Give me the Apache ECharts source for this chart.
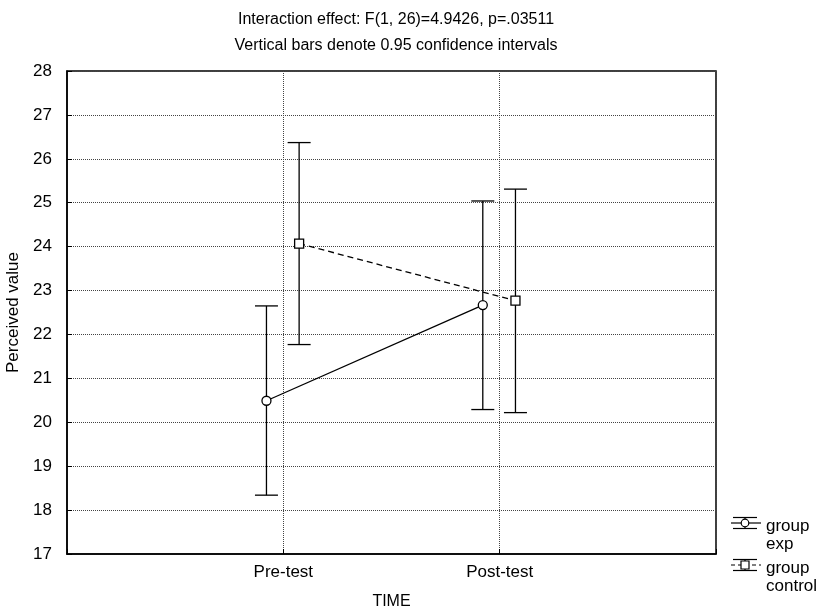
<!DOCTYPE html>
<html><head><meta charset="utf-8">
<script src="https://cdn.jsdelivr.net/npm/echarts@6/dist/echarts.min.js"></script>
<style>html,body{margin:0;padding:0;background:#fff}#c{width:819px;height:608px}</style>
</head><body><div id="c"></div>
<script>
const categories = ['Pre-test', 'Post-test'];
const expMean = [20.49, 22.67];
const expLow = [18.34, 20.29];
const expHigh = [22.65, 25.04];
const ctrlMean = [24.07, 22.77];
const ctrlLow = [21.77, 20.22];
const ctrlHigh = [26.37, 25.31];
const yTicks = [17, 18, 19, 20, 21, 22, 23, 24, 25, 26, 27, 28];

const FONT = 'Liberation Sans, Arial, sans-serif';
const expOff = -0.078, ctrlOff = 0.073;

const chart = echarts.init(document.getElementById('c'));

function errData(low, high, off) {
  return categories.map((c, i) => [i + 1 + off, low[i], high[i]]);
}
function lineData(mean, off) {
  return categories.map((c, i) => [i + 1 + off, mean[i]]);
}
function renderErr(params, api) {
  const x = api.value(0);
  const lo = api.coord([x, api.value(1)]);
  const hi = api.coord([x, api.value(2)]);
  const hw = 11.5;
  const st = { stroke: '#000', lineWidth: 1.3 };
  return {
    type: 'group',
    children: [
      { type: 'line', shape: { x1: lo[0], y1: lo[1], x2: hi[0], y2: hi[1] }, style: st },
      { type: 'line', shape: { x1: hi[0] - hw, y1: hi[1], x2: hi[0] + hw, y2: hi[1] }, style: st },
      { type: 'line', shape: { x1: lo[0] - hw, y1: lo[1], x2: lo[0] + hw, y2: lo[1] }, style: st }
    ]
  };
}

const legendX = 733;
function legendIcon(cy, sym, dashed) {
  const st = { stroke: '#000', lineWidth: 1.2 };
  const cx = legendX + 12;
  const kids = [
    { type: 'line', shape: { x1: legendX, y1: cy - 5.5, x2: legendX + 24, y2: cy - 5.5 }, style: st },
    { type: 'line', shape: { x1: legendX, y1: cy + 5.5, x2: legendX + 24, y2: cy + 5.5 }, style: st },
    { type: 'line', shape: { x1: cx, y1: cy - 5.5, x2: cx, y2: cy + 5.5 }, style: st },
    { type: 'line', shape: { x1: legendX - 2, y1: cy, x2: legendX + 28, y2: cy }, style: Object.assign({}, st, dashed ? { lineDash: [4, 3] } : {}) }
  ];
  if (sym === 'circle') kids.push({ type: 'circle', shape: { cx: cx, cy: cy, r: 3.8 }, style: { fill: '#fff', stroke: '#000', lineWidth: 1.2 } });
  else kids.push({ type: 'rect', shape: { x: cx - 4, y: cy - 4, width: 8, height: 8 }, style: { fill: '#fff', stroke: '#000', lineWidth: 1.2 } });
  return { type: 'group', children: kids };
}

chart.setOption({
  animation: false,
  backgroundColor: '#fff',
  title: {
    text: 'Interaction effect: F(1, 26)=4.9426, p=.03511\nVertical bars denote 0.95 confidence intervals',
    left: 391, top: 2, textAlign: 'center',
    textStyle: { fontFamily: FONT, fontSize: 16, fontWeight: 'normal', color: '#000', lineHeight: 26 }
  },
  grid: { left: 67, right: 103, top: 71, bottom: 54, show: true, borderColor: '#000', borderWidth: 1.5,
    backgroundColor: 'transparent', containLabel: false, outerBoundsMode: 'none' },
  xAxis: {
    type: 'value', min: 0, max: 3, interval: 1,
    name: 'TIME', nameLocation: 'middle', nameGap: 40,
    nameTextStyle: { fontFamily: FONT, fontSize: 16, color: '#000' },
    axisLine: { lineStyle: { color: '#000', width: 1.5 } },
    axisTick: { inside: true, length: 5, lineStyle: { color: '#000' } },
    axisLabel: { fontFamily: FONT, fontSize: 17, color: '#000', margin: 10,
      formatter: v => (v >= 1 && v <= categories.length) ? categories[v - 1] : '' },
    splitLine: { show: true, lineStyle: { type: 'dotted', color: '#444', width: 1 } }
  },
  yAxis: {
    type: 'value', min: yTicks[0], max: yTicks[yTicks.length - 1], interval: 1,
    name: 'Perceived value', nameLocation: 'middle', nameGap: 32, nameRotate: 90,
    nameTextStyle: { fontFamily: FONT, fontSize: 17, color: '#000' },
    axisLine: { show: true, lineStyle: { color: '#000', width: 1.5 } },
    axisTick: { show: true, inside: true, length: 5, lineStyle: { color: '#000' } },
    axisLabel: { fontFamily: FONT, fontSize: 17, color: '#000', margin: 15 },
    splitLine: { show: true, lineStyle: { type: 'dotted', color: '#444', width: 1 } }
  },
  series: [
    { type: 'custom', name: 'errExp', renderItem: renderErr, data: errData(expLow, expHigh, expOff), z: 2, silent: true },
    { type: 'custom', name: 'errCtrl', renderItem: renderErr, data: errData(ctrlLow, ctrlHigh, ctrlOff), z: 2, silent: true },
    { type: 'line', name: 'group exp', data: lineData(expMean, expOff), symbol: 'circle', symbolSize: 9,
      lineStyle: { color: '#000', width: 1.3 }, itemStyle: { color: '#fff', borderColor: '#000', borderWidth: 1.3 }, z: 3 },
    { type: 'line', name: 'group control', data: lineData(ctrlMean, ctrlOff), symbol: 'rect', symbolSize: 9,
      lineStyle: { color: '#000', width: 1.3, type: [6, 4] }, itemStyle: { color: '#fff', borderColor: '#000', borderWidth: 1.3 }, z: 3 }
  ],
  graphic: [
    legendIcon(523, 'circle', false),
    legendIcon(565, 'rect', true),
    { type: 'text', left: 766, top: 518, style: { text: 'group', font: '17px ' + FONT, fill: '#000' } },
    { type: 'text', left: 766, top: 536, style: { text: 'exp', font: '17px ' + FONT, fill: '#000' } },
    { type: 'text', left: 766, top: 560, style: { text: 'group', font: '17px ' + FONT, fill: '#000' } },
    { type: 'text', left: 766, top: 578, style: { text: 'control', font: '17px ' + FONT, fill: '#000' } }
  ]
});
</script></body></html>
